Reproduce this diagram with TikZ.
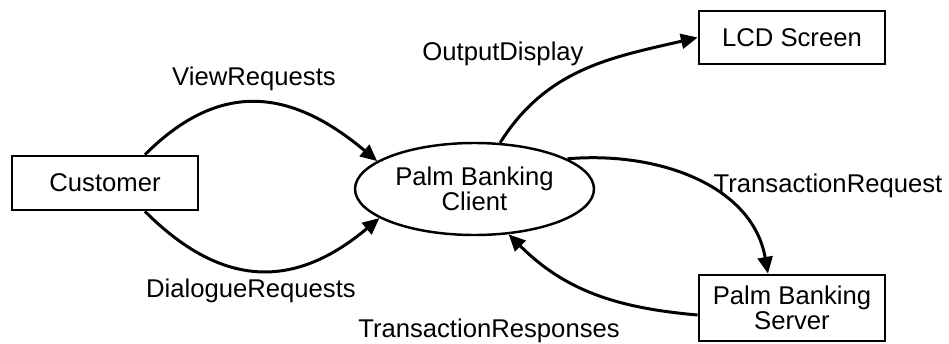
\documentclass[tikz,border=0pt]{standalone}
\usepackage{fontspec}
\setmainfont{Liberation Sans}
\usetikzlibrary{shapes.geometric, arrows.meta, positioning}

\begin{document}
\begin{tikzpicture}[
		font=\fontsize{14.6}{14}\selectfont,
		ext/.style={draw, line width=1.6pt, minimum width=3.72cm, align=center, inner sep=0pt},
		proc/.style={draw, ellipse, line width=1.4pt, minimum width=4.78cm, minimum height=1.84cm, align=center, inner sep=0pt},
		flow/.style={line width=1.7pt, -{Triangle[length=9.5pt, width=8.5pt]}},
		lbl/.style={anchor=base, inner sep=0pt}
	]
		\useasboundingbox (0,0) rectangle (18.98,-6.86);

		\node[ext, minimum height=1.08cm] (customer) at (2.1,-3.66) {Customer};
		\node[proc] (client) at (9.49,-3.78) {Palm Banking\\Client};
		\node[ext, minimum height=1.06cm] (lcd) at (15.84,-0.75) {LCD Screen};
		\node[ext, minimum height=1.32cm] (server) at (15.84,-6.16) {Palm Banking\\Server};

		% Flows
		\draw[flow] ([xshift=0.8cm]customer.north) to[out=45, in=140, looseness=1.2] (client.164);
		\draw[flow] ([xshift=0.8cm]customer.south) to[out=-45, in=220, looseness=1.2] (client.197);
		\draw[flow] (client.61) to[out=58, in=193] (lcd.west);
		\draw[flow] (client.18) to[out=5, in=100] ([xshift=-0.48cm]server.north);
		\draw[flow] ([yshift=-0.14cm]server.west) to[out=175, in=-45] (client.307);

		% Flow labels
		\node[lbl] (lblview) at (5.08,-1.70) {ViewRequests};
		\node[lbl] (lbldialogue) at (5.02,-5.94) {DialogueRequests};
		\node[lbl] (lbloutput) at (10.06,-1.20) {OutputDisplay};
		\node[lbl] (lblrequest) at (16.56,-3.84) {TransactionRequest};
		\node[lbl] (lblresponse) at (9.78,-6.74) {TransactionResponses};
	\end{tikzpicture}
\end{document}
